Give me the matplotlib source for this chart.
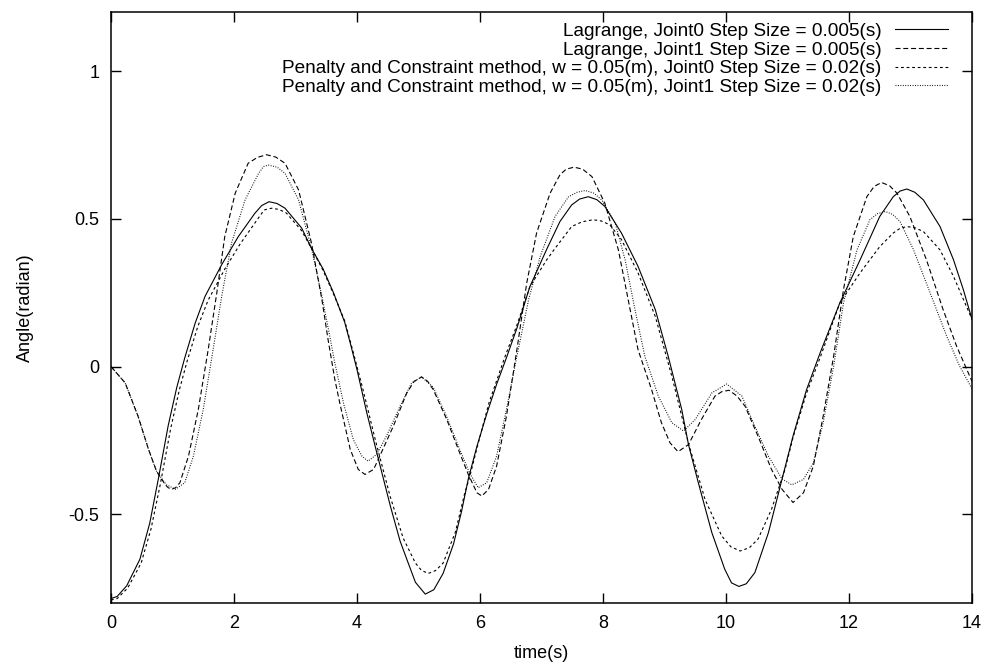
import matplotlib
matplotlib.use("Agg")
import matplotlib.pyplot as plt

plt.rcParams['font.family'] = ['Liberation Sans', 'DejaVu Sans']

# DATA.
t_lag0 = [0, 0.1, 0.255, 0.47, 0.63, 0.77, 0.93, 1.07, 1.2, 1.37, 1.53,
          1.8, 2.07, 2.34, 2.45, 2.57, 2.7, 2.83, 3.1, 3.26, 3.45, 3.62, 3.8,
          3.89, 4.0, 4.16, 4.32, 4.54, 4.7, 4.81, 4.95, 5.11, 5.25, 5.4, 5.57, 5.7, 5.81,
          5.95, 6.11, 6.27, 6.43, 6.6, 6.81, 7.08, 7.3, 7.49, 7.62, 7.76, 7.9, 8.03,
          8.3, 8.57, 8.85, 9.06, 9.28, 9.39, 9.55, 9.77, 9.98, 10.09, 10.21, 10.33,
          10.47, 10.69, 10.91, 11.09, 11.31, 11.53, 11.85, 12.18, 12.5, 12.72, 12.83,
          12.94, 13.07, 13.21, 13.48, 13.7, 13.86, 14.0]
v_lag0 = [-0.785, -0.778, -0.742, -0.652, -0.53, -0.38, -0.2, -0.07, 0.03, 0.148, 0.238,
          0.345, 0.44, 0.519, 0.545, 0.558, 0.552, 0.536, 0.469, 0.40, 0.33, 0.249, 0.15,
          0.08, -0.01, -0.157, -0.29, -0.47, -0.59, -0.652, -0.73, -0.77, -0.755, -0.70, -0.60, -0.49, -0.38,
          -0.27, -0.16, -0.06, 0.03, 0.13, 0.27, 0.395, 0.491, 0.547, 0.567, 0.575, 0.565, 0.542,
          0.452, 0.339, 0.193, 0.035, -0.145, -0.264, -0.393, -0.562, -0.686, -0.732, -0.744, -0.735,
          -0.697, -0.562, -0.382, -0.235, -0.078, 0.046, 0.215, 0.361, 0.508, 0.575, 0.594,
          0.601, 0.59, 0.564, 0.474, 0.361, 0.26, 0.16]

t_lag1 = [0, 0.23, 0.44, 0.61, 0.74, 0.88, 0.93, 0.99, 1.05, 1.12, 1.26, 1.42,
          1.58, 1.72, 1.85, 2.02, 2.23, 2.38, 2.53, 2.68, 2.83, 3.05, 3.26, 3.43,
          3.53, 3.64, 3.72, 3.89, 4.02, 4.13, 4.27, 4.37, 4.59, 4.81,
          4.93, 5.05, 5.15, 5.24, 5.46, 5.67, 5.81, 5.95, 6.03, 6.14, 6.27, 6.43,
          6.6, 6.76, 6.92, 7.14, 7.3, 7.4, 7.53, 7.67, 7.82, 8.03, 8.25, 8.41,
          8.57, 8.79, 8.95, 9.09, 9.22, 9.39, 9.6, 9.82, 9.93, 10.05, 10.18, 10.31,
          10.52, 10.74, 10.91, 11.09, 11.26, 11.42, 11.58, 11.75, 11.91, 12.07,
          12.29, 12.41, 12.53, 12.66, 12.78, 12.99, 13.26, 13.53, 13.75, 14.0]
v_lag1 = [0.0, -0.055, -0.168, -0.28, -0.354, -0.399, -0.41, -0.415, -0.41, -0.393, -0.303, -0.145,
          0.057, 0.249, 0.44, 0.587, 0.688, 0.708, 0.717, 0.709, 0.688, 0.598, 0.418, 0.226,
          0.091, -0.044, -0.123, -0.28, -0.348, -0.365, -0.348, -0.303, -0.202, -0.089,
          -0.05, -0.035, -0.05, -0.078, -0.179, -0.292, -0.365, -0.427, -0.438, -0.415, -0.337, -0.168,
          0.057, 0.283, 0.452, 0.587, 0.649, 0.668, 0.675, 0.668, 0.643, 0.553, 0.395, 0.226,
          0.057, -0.078, -0.19, -0.258, -0.288, -0.264, -0.179, -0.1, -0.085, -0.08, -0.1, -0.134,
          -0.235, -0.348, -0.415, -0.46, -0.427, -0.337, -0.168, 0.035, 0.26, 0.44,
          0.575, 0.61, 0.623, 0.612, 0.587, 0.508, 0.361, 0.193, 0.069, -0.05]

t_pen0 = [0, 0.1, 0.27, 0.49, 0.65, 0.8, 0.97, 1.11, 1.24, 1.41, 1.58,
          1.85, 2.1, 2.37, 2.49, 2.61, 2.73, 2.85, 3.1, 3.26, 3.45, 3.62, 3.8,
          3.95, 4.1, 4.3, 4.54, 4.75, 4.95, 5.05, 5.16, 5.28, 5.4, 5.6, 5.75, 5.83,
          5.97, 6.15, 6.4, 6.6, 6.81, 7.08, 7.22, 7.49, 7.66, 7.84, 7.97, 8.11,
          8.3, 8.57, 8.85, 9.12, 9.39, 9.66, 9.93, 10.08, 10.23, 10.38, 10.52, 10.74,
          10.96, 11.09, 11.31, 11.53, 11.85, 12.18, 12.5, 12.72, 12.83, 12.94, 13.07, 13.21,
          13.48, 13.7, 14.0]
v_pen0 = [-0.79, -0.785, -0.75, -0.665, -0.55, -0.40, -0.21, -0.08, 0.02, 0.135, 0.225,
          0.33, 0.415, 0.495, 0.53, 0.536, 0.532, 0.52, 0.46, 0.40, 0.325, 0.245, 0.155,
          0.04, -0.08, -0.25, -0.44, -0.58, -0.665, -0.69, -0.70, -0.69, -0.665, -0.56, -0.43, -0.375,
          -0.26, -0.12, 0.03, 0.14, 0.27, 0.36, 0.40, 0.474, 0.49, 0.497, 0.493, 0.48,
          0.43, 0.317, 0.17, -0.033, -0.26, -0.45, -0.573, -0.61, -0.624, -0.613, -0.584, -0.483,
          -0.348, -0.24, -0.09, 0.03, 0.215, 0.317, 0.406, 0.452, 0.468, 0.474, 0.47, 0.457,
          0.395, 0.305, 0.16]

t_pen1 = [0, 0.23, 0.44, 0.61, 0.74, 0.9, 1.05, 1.2, 1.34, 1.5,
          1.66, 1.8, 1.96, 2.18, 2.4, 2.48, 2.56, 2.7, 2.83, 3.05, 3.26, 3.43,
          3.56, 3.64, 3.78, 3.94, 4.08, 4.18, 4.32, 4.48, 4.7, 4.89,
          5.05, 5.24, 5.46, 5.67, 5.83, 5.97, 6.11, 6.27, 6.43, 6.6,
          6.79, 6.98, 7.22, 7.44, 7.58, 7.71, 7.85, 7.98, 8.2, 8.36, 8.52, 8.68,
          8.9, 9.12, 9.31, 9.5, 9.77, 10.01, 10.26, 10.47, 10.69, 10.91,
          11.07, 11.26, 11.42, 11.58, 11.75, 11.91, 12.13, 12.34, 12.46, 12.59, 12.71, 12.83,
          13.05, 13.32, 13.59, 13.8, 14.0]
v_pen1 = [0.0, -0.055, -0.168, -0.28, -0.354, -0.40, -0.415, -0.393, -0.303, -0.145,
          0.057, 0.238, 0.418, 0.564, 0.654, 0.677, 0.682, 0.675, 0.654, 0.564, 0.40, 0.238,
          0.10, 0.012, -0.123, -0.247, -0.303, -0.32, -0.297, -0.235, -0.134, -0.055,
          -0.035, -0.07, -0.17, -0.28, -0.36, -0.41, -0.393, -0.303, -0.145, 0.035,
          0.226, 0.373, 0.508, 0.575, 0.59, 0.596, 0.587, 0.564, 0.485, 0.361, 0.193, 0.035,
          -0.1, -0.19, -0.218, -0.179, -0.089, -0.059, -0.1, -0.202, -0.303, -0.38,
          -0.40, -0.382, -0.325, -0.19, 0.001, 0.215, 0.395, 0.497, 0.517, 0.525, 0.515, 0.491,
          0.395, 0.249, 0.102, 0.001, -0.075]

labels = [
    "Lagrange, Joint0 Step Size = 0.005(s)",
    "Lagrange, Joint1 Step Size = 0.005(s)",
    "Penalty and Constraint method, w = 0.05(m), Joint0 Step Size = 0.02(s)",
    "Penalty and Constraint method, w = 0.05(m), Joint1 Step Size = 0.02(s)",
]
x_ticks = [0, 2, 4, 6, 8, 10, 12, 14]
y_ticks = [-0.5, 0, 0.5, 1]
y_tick_labels = ["-0.5", "0", "0.5", "1"]


# PLOT.
fig = plt.figure(figsize=(9.84, 6.64), dpi=100)
ax = fig.add_axes([0.1128, 0.0919, 0.875, 0.890])

styles = ["-", (0, (4.5, 2.5)), (0, (2.5, 2.5)), (0, (0.8, 1.4))]
series = [(t_lag0, v_lag0), (t_lag1, v_lag1), (t_pen0, v_pen0), (t_pen1, v_pen1)]
for (t, v), ls, lab in zip(series, styles, labels):
    ax.plot(t, v, color="k", lw=0.8, ls=ls, label=lab)

ax.set_xlim(0, 14)
ax.set_ylim(-0.8, 1.2)
ax.set_xticks(x_ticks)
ax.set_yticks(y_ticks)
ax.set_yticklabels(y_tick_labels)
ax.tick_params(direction="in", top=True, right=True, length=7, width=1,
               labelsize=13)
ax.tick_params(axis="x", pad=9)
ax.tick_params(axis="y", pad=8.5)
for s in ax.spines.values():
    s.set_linewidth(1.1)

ax.set_xlabel("time(s)", fontsize=13, labelpad=9)
ax.set_ylabel("Angle(radian)", fontsize=13, labelpad=25)

ax.legend(loc="upper right", bbox_to_anchor=(0.981, 0.995), frameon=False,
          markerfirst=False, fontsize=13.7, handlelength=2.8, handletextpad=0.7,
          labelspacing=0.07, borderpad=0.4, borderaxespad=0)

plt.savefig("out.png", dpi=100)
